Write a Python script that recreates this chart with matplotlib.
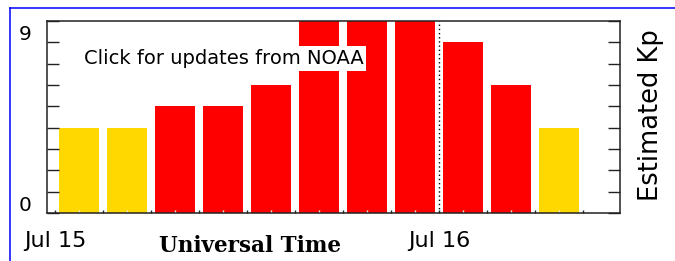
"""
Estimated planetary Kp index, 3-hour bars over Jul 15-16 (UT).
Run: python plot.py  -> out.png
"""

import matplotlib

matplotlib.use("Agg")

import matplotlib.pyplot as plt
from matplotlib.lines import Line2D

# 3-hour bins, centre of each bin in hours after Jul 15 00 UT
hours = [1.5, 4.5, 7.5, 10.5, 13.5, 16.5, 19.5, 22.5, 25.5, 28.5, 31.5]
kp = [4, 4, 5, 5, 6, 9, 9, 9, 8, 6, 4]

day_ticks = [0, 24]
day_labels = ["Jul 15", "Jul 16"]
kp_labels = [0, 9]

PX = 72 / 100  # one pixel in points at dpi=100
DARK = "#222222"


def kp_color(v):
    return "#ffd800" if v < 5 else "#ff0000"


def plot_kp() -> None:
    fig = plt.figure(figsize=(6.75, 2.61), dpi=100)
    ax = fig.add_axes([47 / 675, 48 / 261, 573 / 675, 192 / 261])

    ax.bar(hours, kp, width=2.5, color=[kp_color(v) for v in kp], zorder=1)
    ax.set_xlim(-0.5, 35.3)
    ax.set_ylim(0, 9)

    # day boundary
    ax.axvline(24, color="black", lw=1, ls=(0, (1, 2)), zorder=2)

    # x ticks: bin edges (major) and bin centres (minor)
    major = list(range(0, 34, 3))
    ax.set_xticks(major)
    ax.set_xticklabels([day_labels[day_ticks.index(h)] if h in day_ticks else "" for h in major])
    ax.set_xticks(hours, minor=True)
    ax.tick_params(axis="x", which="major", direction="in", length=3 * PX, width=1,
                   color=DARK, pad=18 * PX, labelsize=16)
    ax.tick_params(axis="x", which="minor", direction="in", length=3 * PX, width=1,
                   color="#eeeeee")

    # y ticks on both sides, only 0 and 9 labelled
    ax.set_yticks(range(10))
    ax.set_yticklabels([])
    ax.tick_params(axis="y", direction="in", length=12 * PX, width=1, color=DARK,
                   left=True, right=True)
    for v, dy in zip(kp_labels, [7.5, -13.5]):
        ax.annotate(str(v), xy=(0, v), xycoords=("axes fraction", "data"),
                    xytext=(-16 * PX, dy * PX), textcoords="offset points",
                    ha="right", va="center", fontsize=14.5)

    for s in ax.spines.values():
        s.set_color(DARK)
        s.set_linewidth(1.1)

    ax.text(10.53, 7.24, "Click for updates from NOAA", ha="center", va="center",
            fontsize=14, zorder=4,
            bbox=dict(boxstyle="square,pad=0.15", fc="white", ec="none"))

    fig.text(250 / 675, 1 - 246 / 261, "Universal Time", ha="center", va="center",
             family="DejaVu Serif", weight="bold", fontsize=15.5)
    fig.text(651 / 675, 1 - 115 / 261, "Estimated Kp", rotation=90,
             ha="center", va="center", fontsize=18.5)

    # blue page frame (top and left edges only visible)
    fig.add_artist(Line2D([10 / 675, 1], [1 - 8 / 261] * 2, color="#0000ff",
                          lw=1.1, transform=fig.transFigure))
    fig.add_artist(Line2D([10 / 675] * 2, [0, 1 - 8 / 261], color="#0000ff",
                          lw=1.1, transform=fig.transFigure))

    fig.savefig("out.png", dpi=100)
    plt.close(fig)


if __name__ == "__main__":
    plot_kp()
